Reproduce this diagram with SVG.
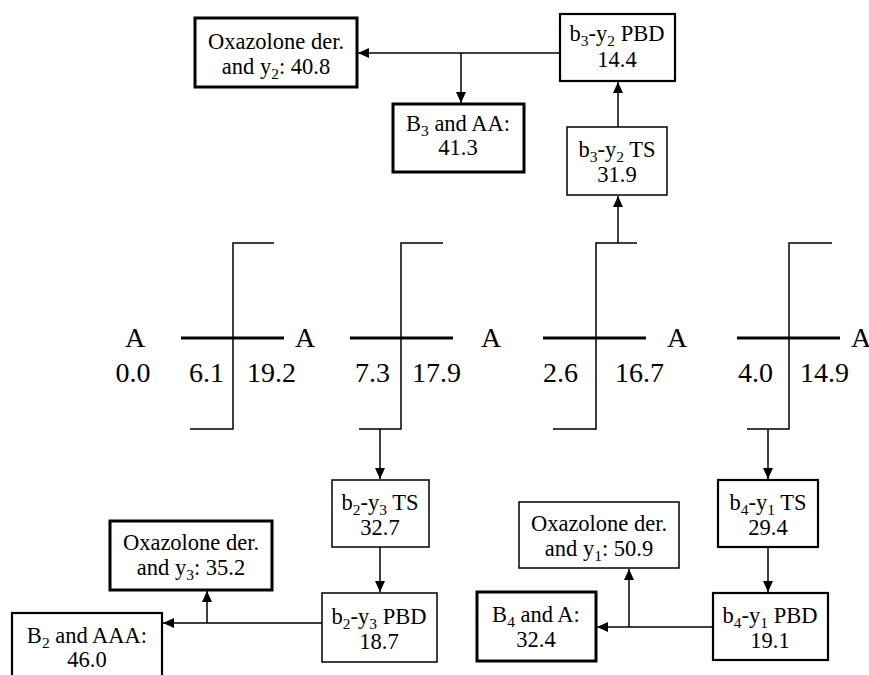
<svg xmlns="http://www.w3.org/2000/svg" width="869" height="675" viewBox="0 0 869 675">
<style>
text{font-family:'Liberation Serif','DejaVu Serif',serif;fill:#000}
.t{font-size:22.5px;text-anchor:middle}
.sb{font-size:15.5px;baseline-shift:-5px}
.big{font-size:28px}
.mid{text-anchor:middle}
.end{text-anchor:end}
.box{fill:#fff;stroke:#000;stroke-width:1.5}
.bx2{fill:#fff;stroke:#000;stroke-width:2.2}
.bx3{fill:#fff;stroke:#000;stroke-width:3}
.ln{stroke:#000;stroke-width:1.5;fill:none}
.arr{stroke:#000;stroke-width:1.5;fill:none;marker-end:url(#ah)}
.bar{stroke:#000;stroke-width:3.2;fill:none}
</style>
<defs>
<marker id="ah" markerUnits="userSpaceOnUse" markerWidth="11" markerHeight="10" refX="11" refY="5" orient="auto">
<path d="M0,0 L11,5 L0,10 z" fill="#000"/>
</marker>
</defs>
<rect width="869" height="675" fill="#fff"/>

<g id="connectors">
<line class="arr" x1="560" y1="53" x2="358" y2="53"/>
<line class="arr" x1="461" y1="53" x2="461" y2="103"/>
<line class="arr" x1="618" y1="243" x2="618" y2="196"/>
<line class="arr" x1="618" y1="127" x2="618" y2="82"/>
<line class="arr" x1="380" y1="429" x2="380" y2="479"/>
<line class="arr" x1="380" y1="547" x2="380" y2="592"/>
<line class="arr" x1="322" y1="623" x2="163" y2="623"/>
<line class="arr" x1="207" y1="623" x2="207" y2="591"/>
<line class="arr" x1="768" y1="429" x2="768" y2="479"/>
<line class="arr" x1="768" y1="547" x2="768" y2="592"/>
<line class="arr" x1="713" y1="627" x2="597" y2="627"/>
<line class="arr" x1="629" y1="627" x2="629" y2="569"/>
</g>

<g id="energy-profile">
<text class="big mid" x="135" y="347">A</text>
<text class="big mid" x="305" y="347">A</text>
<text class="big mid" x="491" y="347">A</text>
<text class="big mid" x="677" y="347">A</text>
<text class="big mid" x="861" y="347">A</text>
<text class="big mid" x="133" y="382">0.0</text>

<g id="ts1">
<line class="bar" x1="181" y1="338" x2="284" y2="338"/>
<polyline class="ln" points="190,429 233,429 233,243 274,243"/>
<text class="big end" x="224" y="382">6.1</text>
<text class="big" x="247" y="382">19.2</text>
</g>
<g id="ts2">
<line class="bar" x1="350" y1="338" x2="453" y2="338"/>
<polyline class="ln" points="359,429 401,429 401,243 443,243"/>
<text class="big end" x="390" y="382">7.3</text>
<text class="big" x="412" y="382">17.9</text>
</g>
<g id="ts3">
<line class="bar" x1="543" y1="338" x2="646" y2="338"/>
<polyline class="ln" points="553,429 596,429 596,243 637,243"/>
<text class="big end" x="578" y="382">2.6</text>
<text class="big" x="615" y="382">16.7</text>
</g>
<g id="ts4">
<line class="bar" x1="737" y1="338" x2="840" y2="338"/>
<polyline class="ln" points="747,429 789,429 789,243 832,243"/>
<text class="big end" x="773" y="382">4.0</text>
<text class="big" x="800" y="382">14.9</text>
</g>
</g>

<g id="oxy2">
<rect class="bx3" x="195" y="18" width="162" height="69"/>
<text class="t" x="276" y="49">Oxazolone der.</text>
<text class="t" x="276" y="74">and y<tspan class="sb">2</tspan>: 40.8</text>
</g>
<g id="b3aa">
<rect class="bx3" x="393" y="104" width="131" height="68"/>
<text class="t" x="458" y="131">B<tspan class="sb">3</tspan> and AA:</text>
<text class="t" x="458" y="155">41.3</text>
</g>
<g id="b3y2pbd">
<rect class="bx2" x="560" y="14" width="115" height="67"/>
<text class="t" x="617" y="41">b<tspan class="sb">3</tspan>-y<tspan class="sb">2</tspan> PBD</text>
<text class="t" x="617" y="67">14.4</text>
</g>
<g id="b3y2ts">
<rect class="box" x="567" y="127" width="100" height="68"/>
<text class="t" x="617" y="157">b<tspan class="sb">3</tspan>-y<tspan class="sb">2</tspan> TS</text>
<text class="t" x="617" y="182">31.9</text>
</g>

<g id="b2y3ts">
<rect class="box" x="332" y="480" width="97" height="67"/>
<text class="t" x="380" y="510">b<tspan class="sb">2</tspan>-y<tspan class="sb">3</tspan> TS</text>
<text class="t" x="380" y="535">32.7</text>
</g>
<g id="b2y3pbd">
<rect class="box" x="322" y="593" width="115" height="69"/>
<text class="t" x="379" y="624">b<tspan class="sb">2</tspan>-y<tspan class="sb">3</tspan> PBD</text>
<text class="t" x="379" y="649">18.7</text>
</g>
<g id="oxy3">
<rect class="bx3" x="110" y="521" width="162" height="69"/>
<text class="t" x="191" y="550">Oxazolone der.</text>
<text class="t" x="191" y="575">and y<tspan class="sb">3</tspan>: 35.2</text>
</g>
<g id="b2aaa">
<rect class="bx2" x="12" y="613" width="150" height="80"/>
<text class="t" x="87" y="643">B<tspan class="sb">2</tspan> and AAA:</text>
<text class="t" x="87" y="667">46.0</text>
</g>

<g id="b4y1ts">
<rect class="bx2" x="718" y="480" width="100" height="67"/>
<text class="t" x="768" y="510">b<tspan class="sb">4</tspan>-y<tspan class="sb">1</tspan> TS</text>
<text class="t" x="768" y="535">29.4</text>
</g>
<g id="b4y1pbd">
<rect class="bx2" x="713" y="593" width="115" height="67"/>
<text class="t" x="770" y="623">b<tspan class="sb">4</tspan>-y<tspan class="sb">1</tspan> PBD</text>
<text class="t" x="770" y="648">19.1</text>
</g>
<g id="oxy1">
<rect class="box" x="519" y="502" width="160" height="66"/>
<text class="t" x="599" y="531">Oxazolone der.</text>
<text class="t" x="599" y="556">and y<tspan class="sb">1</tspan>: 50.9</text>
</g>
<g id="b4a">
<rect class="bx3" x="477" y="592" width="119" height="69"/>
<text class="t" x="536" y="622">B<tspan class="sb">4</tspan> and A:</text>
<text class="t" x="536" y="647">32.4</text>
</g>
</svg>
